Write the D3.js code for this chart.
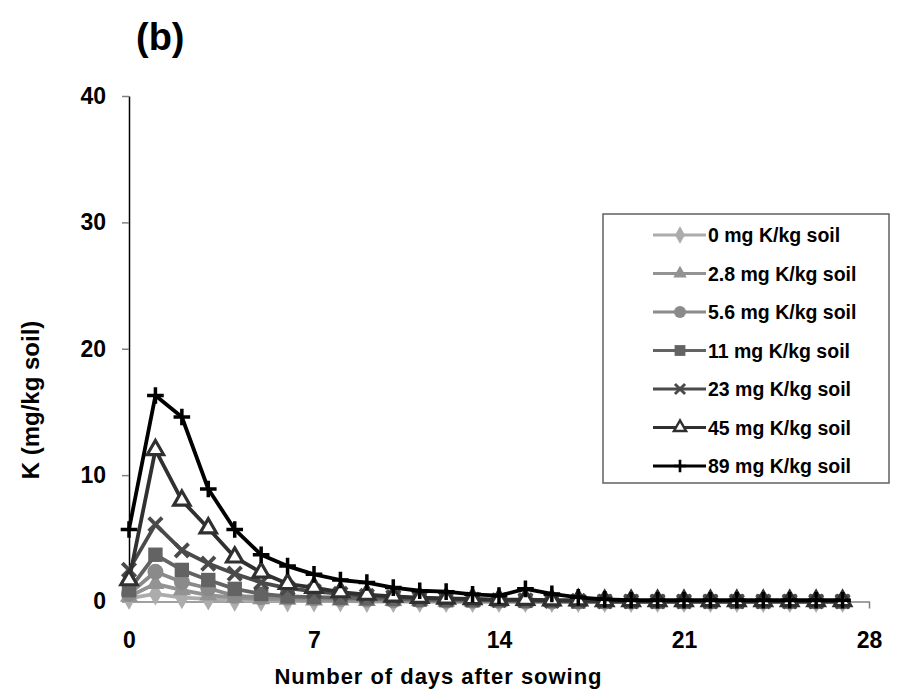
<!DOCTYPE html>
<meta charset="utf-8">
<style>
body { margin: 0; background: #fff; }
text { font-family: "Liberation Sans", Arial, sans-serif; font-weight: bold; }
</style>
<body>

<!-- load the d3.js library -->
<script src="https://d3js.org/d3.v7.min.js"></script>
<script>

// the data
var days = [0, 1, 2, 3, 4, 5, 6, 7, 8, 9, 10, 11, 12, 13, 14, 15, 16, 17, 18, 19, 20, 21, 22, 23, 24, 25, 26, 27];

var k0  = [0.25, 0.6, 0.3, 0.2, 0.1, 0.1, 0.05, 0.05, 0.05, 0, 0, 0, 0, 0, 0, 0, 0, 0, 0, 0, 0, 0, 0, 0, 0, 0, 0, 0];
var k28 = [0.4, 1.4, 0.9, 0.5, 0.3, 0.2, 0.15, 0.1, 0.1, 0.05, 0.05, 0.05, 0, 0, 0, 0, 0, 0, 0, 0, 0, 0, 0, 0, 0, 0, 0, 0];
var k56 = [0.6, 2.35, 1.55, 1.05, 0.45, 0.35, 0.3, 0.25, 0.2, 0.15, 0.1, 0.1, 0.05, 0.05, 0.05, 0, 0, 0, 0, 0, 0, 0, 0, 0, 0, 0, 0, 0];
var k11 = [0.9, 3.7, 2.5, 1.7, 1.0, 0.6, 0.4, 0.35, 0.3, 0.25, 0.2, 0.15, 0.1, 0.1, 0.1, 0.05, 0.05, 0, 0, 0, 0, 0, 0, 0, 0, 0, 0, 0];
var k23 = [2.5, 6.1, 4.05, 3.0, 2.2, 1.5, 1.05, 0.8, 0.6, 0.45, 0.35, 0.25, 0.2, 0.15, 0.1, 0.1, 0.05, 0.05, 0, 0, 0, 0, 0, 0, 0, 0, 0, 0];
var k45 = [1.7, 12.0, 8.0, 5.8, 3.5, 2.3, 1.4, 1.1, 0.75, 0.55, 0.4, 0.3, 0.25, 0.2, 0.15, 0.15, 0.1, 0.1, 0.05, 0.05, 0.05, 0.05, 0.05, 0.05, 0.05, 0.05, 0.05, 0.05];
var k89 = [5.7, 16.3, 14.6, 8.9, 5.7, 3.7, 2.8, 2.15, 1.7, 1.5, 1.1, 0.85, 0.78, 0.57, 0.46, 1.0, 0.6, 0.33, 0.17, 0.1, 0.1, 0.1, 0.1, 0.1, 0.1, 0.1, 0.1, 0.1];

var seriesNames = ["0 mg K/kg soil", "2.8 mg K/kg soil", "5.6 mg K/kg soil", "11 mg K/kg soil",
                   "23 mg K/kg soil", "45 mg K/kg soil", "89 mg K/kg soil"];
var seriesValues = [k0, k28, k56, k11, k23, k45, k89];
var xTicks = [0, 7, 14, 21, 28];
var yTicks = [0, 10, 20, 30, 40];

// look of each series
var colors  = ["#acacac", "#939393", "#8a8a8a", "#636363", "#4a4a4a", "#303030", "#000000"];
var markers = ["diamond", "triangle", "circle", "square", "x", "opentri", "plus"];

var width = 908, height = 693;

var svg = d3.select("body").append("svg")
    .attr("width", width)
    .attr("height", height);

// scales
var x = d3.scaleLinear().domain([0, 28]).range([129, 869]);
var y = d3.scaleLinear().domain([0, 40]).range([601.5, 96]);

// y axis
var yAxis = svg.append("g")
    .attr("transform", "translate(129,0)")
    .call(d3.axisLeft(y).tickValues(yTicks).tickSize(7).tickPadding(16).tickSizeOuter(0));
yAxis.select(".domain").attr("stroke", "#000").attr("stroke-width", 1.5);
yAxis.selectAll(".tick line").attr("stroke", "#808080").attr("stroke-width", 1.5);
yAxis.selectAll("text").attr("font-size", 23).attr("fill", "#000")
    .style("font-family", "'Liberation Sans', Arial, sans-serif");

// x axis: labels every 7 days, tick marks only at the ends
var xAxis = svg.append("g")
    .attr("transform", "translate(0,601.5)")
    .call(d3.axisBottom(x).tickValues(xTicks).tickSize(0).tickPadding(30).tickSizeOuter(0));
xAxis.select(".domain").attr("stroke", "#808080").attr("stroke-width", 1.5);
xAxis.selectAll("text").attr("font-size", 23).attr("fill", "#000")
    .style("font-family", "'Liberation Sans', Arial, sans-serif");
xAxis.selectAll(".tick line")
    .attr("y2", function(d) { return (d === 0 || d === 28) ? 7 : 0; })
    .attr("stroke", "#808080").attr("stroke-width", 1.5);

// axis titles and panel label
svg.append("text")
    .attr("x", 438).attr("y", 684)
    .attr("text-anchor", "middle")
    .attr("font-size", 22)
    .attr("textLength", 327)
    .text("Number of days after sowing");

svg.append("text")
    .attr("transform", "translate(39,400) rotate(-90)")
    .attr("text-anchor", "middle")
    .attr("font-size", 24)
    .text("K (mg/kg soil)");

svg.append("text")
    .attr("x", 136).attr("y", 50)
    .attr("font-size", 38)
    .text("(b)");

// marker drawing
function drawMarker(g, type, color, s) {
  if (type === "diamond") {
    g.append("path").attr("d", d3.symbol().type(d3.symbolDiamond).size(s * s * 0.6)())
      .attr("fill", color);
  } else if (type === "triangle") {
    g.append("path").attr("d", d3.symbol().type(d3.symbolTriangle).size(s * s * 0.55)())
      .attr("fill", color);
  } else if (type === "circle") {
    g.append("circle").attr("r", s * 0.5).attr("fill", color);
  } else if (type === "square") {
    g.append("rect").attr("x", -s * 0.45).attr("y", -s * 0.45)
      .attr("width", s * 0.9).attr("height", s * 0.9).attr("fill", color);
  } else if (type === "x") {
    var h = s * 0.42;
    g.append("path").attr("d", "M" + (-h) + "," + (-h) + "L" + h + "," + h + "M" + (-h) + "," + h + "L" + h + "," + (-h))
      .attr("stroke", color).attr("stroke-width", s * 0.24).attr("fill", "none");
  } else if (type === "opentri") {
    g.append("path").attr("d", d3.symbol().type(d3.symbolTriangle).size(s * s * 0.45)())
      .attr("fill", "#fff").attr("stroke", color).attr("stroke-width", s * 0.2);
  } else if (type === "plus") {
    var p = s * 0.52;
    g.append("path").attr("d", "M" + (-p) + ",0L" + p + ",0M0," + (-p) + "L0," + p)
      .attr("stroke", color).attr("stroke-width", s * 0.22).attr("fill", "none");
  }
}

// lines and markers
var line = d3.line()
    .x(function(d, i) { return x(days[i]); })
    .y(function(d) { return y(d); });

seriesValues.forEach(function(vals, si) {
  var g = svg.append("g").attr("class", "serie");
  g.append("path")
    .attr("d", line(vals))
    .attr("fill", "none")
    .attr("stroke", colors[si])
    .attr("stroke-width", 3.8)
    .attr("stroke-linejoin", "round");
  vals.forEach(function(v, i) {
    var m = g.append("g").attr("transform", "translate(" + x(days[i]) + "," + y(v) + ")");
    drawMarker(m, markers[si], colors[si], 16);
  });
});

// legend
var legend = svg.append("g");
legend.append("rect")
    .attr("x", 603).attr("y", 214)
    .attr("width", 286).attr("height", 269)
    .attr("fill", "#fff")
    .attr("stroke", "#606060")
    .attr("stroke-width", 1.5);

seriesNames.forEach(function(name, si) {
  var ly = 235 + si * 38.5;
  var item = legend.append("g");
  item.append("line")
    .attr("x1", 653).attr("x2", 706)
    .attr("y1", ly).attr("y2", ly)
    .attr("stroke", colors[si]).attr("stroke-width", 2.8);
  var m = item.append("g").attr("transform", "translate(680," + ly + ")");
  drawMarker(m, markers[si], colors[si], 12);
  item.append("text")
    .attr("x", 708).attr("y", ly)
    .attr("dy", "0.36em")
    .attr("font-size", 19.5)
    .text(name);
});

</script>
</body>
